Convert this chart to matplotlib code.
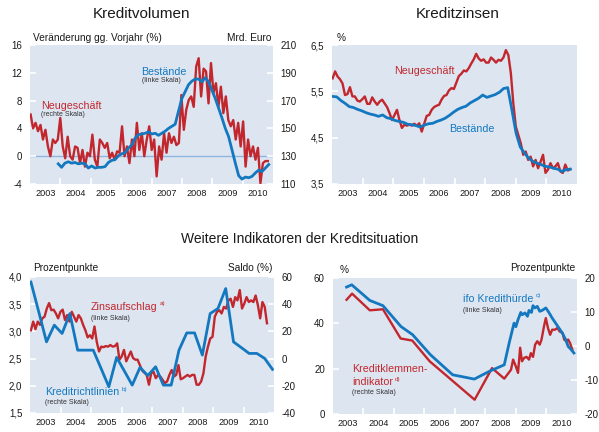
import matplotlib

matplotlib.use("Agg")

import matplotlib.pyplot as plt
import numpy as np

plt.rcParams["font.family"] = ["Liberation Sans", "DejaVu Sans"]

RED = "#c1272d"
BLUE = "#1378bf"
BG = "#dde5f1"
TXT = "#1a1a1a"
W, H = 599, 432

# --- Kreditvolumen ---------------------------------------------------------
kv_neu = [160, 150, 154, 148, 152.5, 142, 149, 137, 130, 142,
          139.5, 142, 157.5, 137, 128.5, 144, 130, 127.5, 137, 136,
          125, 134.5, 122.5, 132.5, 130, 145.5, 127.5, 122.5, 142, 139.5,
          136, 139.5, 128.5, 132.5, 127.5, 133.5, 132.5, 151.5, 130, 137,
          125, 142, 130, 154, 134.5, 146.5, 130, 142, 151.5, 134.5,
          142, 115.5, 137, 127.5, 146.5, 132.5, 146.5, 139.5, 144, 138,
          139.5, 174, 149, 163.5, 170.5, 173, 165.5, 194.5, 200.5, 173,
          193, 191, 168, 197, 175.5, 182.5, 165.5, 180, 161, 173,
          156, 151.5, 156, 142, 154, 137, 155, 122.5, 142, 130,
          137, 127.5, 136, 110.5, 125, 126.5, 126.5]
kv_bestand = [-1.1, -1.6, -1.0, -0.8, -1.0, -0.9, -1.1, -1.0, -1.1, -1.7,
              -1.4, -1.7, -1.6, -1.6, -1.5, -0.9, -0.6, -0.5, 0.05, 0.35,
              0.5, 1.2, 1.6, 2.6, 3.1, 3.2, 3.3, 3.5, 3.2, 3.3,
              3.0, 3.3, 3.6, 4.0, 4.3, 4.6, 6.5, 8.3, 9.3, 10.3,
              10.8, 11.1, 11.1, 10.7, 11.3, 10.7, 9.5, 8.3, 6.9, 5.5,
              4.0, 2.8, 0.9, -1.0, -2.8, -3.3, -3.0, -3.1, -2.9, -2.4,
              -2.0, -2.2, -1.7, -1.2]
kv_neu_span = (2003.02, 2010.83)
kv_bestand_span = (2003.93, 2010.86)

# --- Kreditzinsen ----------------------------------------------------------
kz_neu = [5.78, 5.93, 5.82, 5.76, 5.67, 5.42, 5.44, 5.59, 5.39, 5.39,
          5.30, 5.28, 5.33, 5.39, 5.23, 5.23, 5.37, 5.28, 5.21, 5.28,
          5.32, 5.24, 5.16, 5.03, 4.88, 4.99, 5.10, 4.88, 4.71, 4.78,
          4.76, 4.78, 4.76, 4.80, 4.76, 4.81, 4.63, 4.80, 4.97, 4.99,
          5.10, 5.16, 5.19, 5.21, 5.32, 5.40, 5.42, 5.52, 5.57, 5.55,
          5.69, 5.83, 5.88, 5.95, 5.93, 6.00, 6.10, 6.19, 6.31, 6.21,
          6.16, 6.19, 6.12, 6.12, 6.23, 6.18, 6.12, 6.18, 6.16, 6.23,
          6.39, 6.28, 5.89, 5.24, 4.74, 4.56, 4.38, 4.13, 4.20, 4.02,
          4.09, 3.88, 4.02, 3.84, 3.98, 4.13, 3.74, 3.81, 3.95, 3.84,
          3.88, 3.95, 3.77, 3.74, 3.92, 3.79, 3.82]
kz_bestand = [5.39, 5.38, 5.30, 5.24, 5.17, 5.15, 5.11, 5.08, 5.04, 5.01,
              4.99, 4.96, 4.99, 4.93, 4.91, 4.87, 4.85, 4.83, 4.79, 4.78,
              4.76, 4.73, 4.77, 4.80, 4.81, 4.85, 4.88, 4.92, 4.98, 5.05,
              5.11, 5.15, 5.18, 5.25, 5.30, 5.35, 5.42, 5.37, 5.40, 5.43,
              5.48, 5.56, 5.58, 5.10, 4.60, 4.30, 4.17, 4.06, 3.99, 3.95,
              3.92, 3.88, 3.87, 3.84, 3.82, 3.77, 3.81, 3.82]
kz_span = (2003.02, 2010.78)

# --- Zinsaufschlag / Kreditrichtlinien ------------------------------------
zins_aufschlag = [3.02, 3.18, 3.04, 3.18, 3.12, 3.24, 3.27, 3.42, 3.52, 3.39,
                  3.40, 3.33, 3.24, 3.36, 3.40, 3.21, 3.30, 3.18, 3.36, 3.27,
                  3.18, 3.30, 3.24, 3.12, 3.02, 2.89, 2.93, 2.87, 3.09, 2.81,
                  2.63, 2.72, 2.71, 2.73, 2.72, 2.75, 2.72, 2.73, 2.78, 2.48,
                  2.54, 2.66, 2.45, 2.54, 2.63, 2.51, 2.48, 2.48, 2.38, 2.28,
                  2.24, 2.20, 2.02, 2.23, 2.26, 2.14, 2.20, 2.17, 2.11, 2.05,
                  2.08, 2.20, 2.29, 2.17, 2.20, 2.38, 2.12, 2.14, 2.17, 2.20,
                  2.17, 2.20, 2.20, 2.02, 2.02, 2.08, 2.23, 2.54, 2.72, 2.87,
                  2.90, 3.27, 3.36, 3.39, 3.33, 3.45, 3.42, 3.57, 3.60, 3.45,
                  3.63, 3.57, 3.76, 3.42, 3.51, 3.63, 3.54, 3.57, 3.54, 3.66,
                  3.48, 3.24, 3.54, 3.45, 3.15]
richtlinien = [56.3, 34.5, 12.3, 24.6, 18.5, 33.1, 6.2, 6.2, 6.2, -7.2,
               -20.7, 0.9, -9.2, -19.5, -6.5, -12.5, -6.0, -19.5, -19.5, 6.2,
               18.9, 18.9, 2.6, 33.1, 36.8, 51.5, 12.3, 8.1, 3.8, 3.8,
               0.1, -7.9]
zins_span = (2003.03, 2010.77)
richt_span = (2003.03, 2010.95)

# --- ifo Kredithuerde / Kreditklemmenindikator ----------------------------
ifo_dates = [2003.46, 2003.63, 2004.22, 2004.65, 2005.24, 2005.62, 2006.20,
             2006.93, 2007.64, 2008.13, 2008.62, 2008.78, 2008.94, 2009.00,
             2009.07, 2009.16, 2009.21, 2009.30, 2009.38, 2009.43, 2009.51,
             2009.56, 2009.63, 2009.70, 2009.78, 2009.86, 2009.98, 2010.08,
             2010.19, 2010.30, 2010.41, 2010.52, 2010.63, 2010.71, 2010.79,
             2010.90]
ifo_huerde = [56.0, 57.0, 50.1, 47.8, 38.6, 35.0, 26.2,
              17.3, 15.4, 18.8, 21.7, 31.3, 40.1, 38.5,
              41.6, 44.8, 43.8, 44.6, 43.1, 45.7, 44.8,
              47.8, 46.8, 47.5, 45.3, 45.7, 46.8, 44.8,
              42.3, 40.1, 37.9, 35.7, 32.8, 29.8, 28.7,
              26.9]
klemme_dates = [2003.46, 2003.64, 2004.22, 2004.65, 2005.23, 2005.61, 2006.18,
                2007.65, 2008.22, 2008.62, 2008.84, 2008.91, 2009.00, 2009.07,
                2009.14, 2009.20, 2009.27, 2009.35, 2009.43, 2009.49, 2009.56,
                2009.63, 2009.70, 2009.78, 2009.84, 2009.92, 2009.98, 2010.05,
                2010.12, 2010.19, 2010.28, 2010.36, 2010.43, 2010.53, 2010.58,
                2010.65, 2010.71, 2010.77, 2010.85]
klemme = [13.6, 15.4, 10.5, 10.8, 2.2, 1.6, -4.5,
          -15.8, -6.5, -9.6, -7.0, -4.0, -6.0, -7.9,
          -0.5, -4.5, -3.5, -3.2, -4.0, -2.1, -3.2,
          0.4, 1.4, 0.4, 1.9, 5.8, 8.2, 5.3,
          3.3, 4.8, 4.8, 5.3, 4.3, 3.8, 1.9,
          1.4, 1.9, 0.9, -1.1]

years = list(range(2003, 2011))

TICK_FS = 7
HEAD_FS = 7.3
LABEL_FS = 7.7
SMALL_FS = 5


def dates(span, n):
    return np.linspace(span[0], span[1], n)


def px_axes(fig, x0, y0, x1, y1):
    return fig.add_axes([x0 / W, 1 - y1 / H, (x1 - x0) / W, (y1 - y0) / H])


def ftext(fig, x, y, s, **kw):
    kw.setdefault("color", TXT)
    kw.setdefault("va", "center")
    return fig.text(x / W, 1 - y / H, s, **kw)


def note(ax, t, s, color):
    ax.annotate(s, xy=(1, 0.55), xycoords=t, xytext=(1.5, 0), textcoords="offset points",
                fontsize=4.5, color=color, va="bottom", ha="left", annotation_clip=False)


def style(ax, yticks, ylabels):
    ax.set_facecolor(BG)
    for sp in ax.spines.values():
        sp.set_visible(False)
    ax.set_xlim(2003, 2011)
    ax.set_xticks(years[1:])
    ax.set_xticklabels([])
    ax.set_xticks([y + 0.5 for y in years], minor=True)
    ax.set_xticklabels([str(y) for y in years], minor=True)
    ax.tick_params(axis="x", which="major", direction="in", length=4, width=1.2, color="white")
    ax.tick_params(axis="x", which="minor", length=0, pad=3.5, labelsize=6.6, labelcolor=TXT)
    ax.set_yticks(yticks)
    ax.set_yticklabels(ylabels)
    ax.set_ylim(yticks[0], yticks[-1])
    ax.tick_params(axis="y", direction="in", length=4, width=1.2, color="white",
                   labelsize=TICK_FS, labelcolor=TXT, pad=5.5)


def twin(ax, yticks, ylabels):
    ax2 = ax.twinx()
    for sp in ax2.spines.values():
        sp.set_visible(False)
    ax2.set_yticks(yticks)
    ax2.set_yticklabels(ylabels)
    ax2.set_ylim(yticks[0], yticks[-1])
    ax2.tick_params(axis="y", direction="in", length=4, width=1.2, color="white",
                    labelsize=TICK_FS, labelcolor=TXT, pad=5.5)
    return ax2


fig = plt.figure(figsize=(W / 100, H / 100), dpi=100)

# panel 1
ax1 = px_axes(fig, 30, 45, 273, 184)
style(ax1, [-4, 0, 4, 8, 12, 16], ["-4", "0", "4", "8", "12", "16"])
ax1.axhline(0, color="#8fb6de", lw=1.0, zorder=1)
ax1r = twin(ax1, [110, 130, 150, 170, 190, 210], ["110", "130", "150", "170", "190", "210"])
ax1r.plot(dates(kv_neu_span, len(kv_neu)), kv_neu, color=RED, lw=1.7, zorder=2)
ax1r.plot(dates(kv_bestand_span, len(kv_bestand)), np.array(kv_bestand) * 5 + 130,
          color=BLUE, lw=2.0, zorder=3)
ftext(fig, 141, 14, "Kreditvolumen", fontsize=11, ha="center")
ftext(fig, 33, 38, "Veränderung gg. Vorjahr (%)", fontsize=HEAD_FS)
ftext(fig, 271, 38, "Mrd. Euro", fontsize=HEAD_FS, ha="right")
ftext(fig, 141.5, 72, "Bestände", fontsize=LABEL_FS, color=BLUE)
ftext(fig, 141.5, 81, "(linke Skala)", fontsize=SMALL_FS, color="#333333")
ftext(fig, 41, 106, "Neugeschäft", fontsize=LABEL_FS, color=RED)
ftext(fig, 41, 115, "(rechte Skala)", fontsize=SMALL_FS, color="#333333")

# panel 2
ax2 = px_axes(fig, 332, 45, 577, 184)
style(ax2, [3.5, 4.5, 5.5, 6.5], ["3,5", "4,5", "5,5", "6,5"])
ax2.plot(dates(kz_span, len(kz_neu)), kz_neu, color=RED, lw=1.7, zorder=2)
ax2.plot(dates(kz_span, len(kz_bestand)), kz_bestand, color=BLUE, lw=2.0, zorder=3)
ftext(fig, 458, 14, "Kreditzinsen", fontsize=11, ha="center")
ftext(fig, 337, 38, "%", fontsize=HEAD_FS)
ftext(fig, 394, 71, "Neugeschäft", fontsize=LABEL_FS, color=RED)
ftext(fig, 449, 129, "Bestände", fontsize=LABEL_FS, color=BLUE)

ftext(fig, 300, 239, "Weitere Indikatoren der Kreditsituation", fontsize=10, ha="center")

# panel 3
ax3 = px_axes(fig, 30, 277, 274, 413)
style(ax3, [1.5, 2.0, 2.5, 3.0, 3.5, 4.0], ["1,5", "2,0", "2,5", "3,0", "3,5", "4,0"])
ax3.plot(dates(zins_span, len(zins_aufschlag)), zins_aufschlag, color=RED, lw=1.7, zorder=2)
ax3r = twin(ax3, [-40, -20, 0, 20, 40, 60], ["-40", "-20", "0", "20", "40", "60"])
ax3r.plot(dates(richt_span, len(richtlinien)), richtlinien, color=BLUE, lw=2.0, zorder=3)
ftext(fig, 33, 268, "Prozentpunkte", fontsize=HEAD_FS)
ftext(fig, 272, 268, "Saldo (%)", fontsize=HEAD_FS, ha="right")
t = ftext(fig, 91, 307, "Zinsaufschlag", fontsize=LABEL_FS, color=RED)
note(ax3, t, "a)", RED)
ftext(fig, 91, 319, "(linke Skala)", fontsize=SMALL_FS, color="#333333")
t = ftext(fig, 45, 392, "Kreditrichtlinien", fontsize=LABEL_FS, color=BLUE)
note(ax3, t, "b)", BLUE)
ftext(fig, 45, 403, "(rechte Skala)", fontsize=SMALL_FS, color="#333333")

# panel 4
ax4 = px_axes(fig, 332.5, 278, 577, 414)
style(ax4, [0, 20, 40, 60], ["0", "20", "40", "60"])
ax4.plot(ifo_dates, ifo_huerde, color=BLUE, lw=2.0, zorder=3)
ax4r = twin(ax4, [-20, -10, 0, 10, 20], ["-20", "-10", "0", "10", "20"])
ax4r.plot(klemme_dates, klemme, color=RED, lw=1.7, zorder=2)
ax4.set_zorder(ax4r.get_zorder() + 1)
ax4.patch.set_visible(False)
ax4r.patch.set_visible(True)
ax4r.patch.set_facecolor(BG)
ftext(fig, 340, 270, "%", fontsize=HEAD_FS)
ftext(fig, 575, 268, "Prozentpunkte", fontsize=HEAD_FS, ha="right")
t = ftext(fig, 463, 299, "ifo Kredithürde", fontsize=LABEL_FS, color=BLUE)
note(ax4, t, "c)", BLUE)
ftext(fig, 463, 310, "(linke Skala)", fontsize=SMALL_FS, color="#333333")
ftext(fig, 352, 369, "Kreditklemmen-", fontsize=LABEL_FS, color=RED)
t = ftext(fig, 352, 382, "indikator", fontsize=LABEL_FS, color=RED)
note(ax4, t, "d)", RED)
ftext(fig, 352, 393, "(rechte Skala)", fontsize=SMALL_FS, color="#333333")

fig.savefig("out.png", dpi=100)
